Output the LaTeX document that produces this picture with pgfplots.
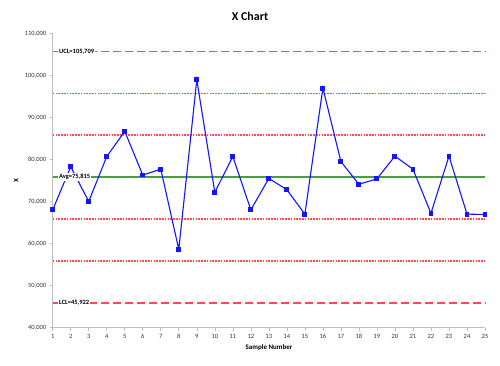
\documentclass[border=0pt]{standalone}
\usepackage{pgfplots}
\pgfplotsset{compat=1.18}
\usepackage{fontspec}
\setmainfont{Carlito}
\definecolor{ctrlred}{RGB}{255,75,75}
\definecolor{avggreen}{RGB}{70,160,60}
\definecolor{datablue}{RGB}{20,20,255}
\definecolor{axgray}{RGB}{190,190,190}
\begin{document}
\begin{tikzpicture}[x=1bp,y=1bp]
\path (0,0) rectangle (500,365);
% y values in thousands
\begin{axis}[
  at={(52.7bp,37.5bp)}, anchor=south west,
  scale only axis, width=432.3bp, height=294bp,
  xmin=1, xmax=25, ymin=40, ymax=110,
  xtick={1,...,25},
  xticklabels={1,2,3,4,5,6,7,8,9,10,11,12,13,14,15,16,17,18,19,20,21,22,23,24,25},
  ytick={40,50,60,70,80,90,100,110},
  yticklabels={{40,000},{50,000},{60,000},{70,000},{80,000},{90,000},{100,000},{110,000}},
  axis x line*=bottom, axis y line*=left,
  axis line style={axgray, line width=0.8bp, -},
  tick style={axgray, line width=0.6bp},
  tick align=outside, major tick length=3bp,
  ticklabel style={font=\fontsize{6.5}{7}\selectfont, text=black!80},
  clip=false,
]
% average
\addplot[draw=avggreen, line width=2bp, mark=none] coordinates {(1,75.815) (25,75.815)};
% control limits and sigma zones
\addplot[draw=ctrlred, line width=1.8bp, dash pattern=on 8bp off 4bp, mark=none] coordinates {(1,45.922) (25,45.922)};
\addplot[draw=ctrlred, line width=1.6bp, dash pattern=on 1.6bp off 1.2bp, mark=none] coordinates {(1,55.886) (25,55.886)};
\addplot[draw=ctrlred, line width=1.6bp, dash pattern=on 1.6bp off 1.2bp, mark=none] coordinates {(1,65.850) (25,65.850)};
\addplot[draw=ctrlred, line width=1.6bp, dash pattern=on 1.6bp off 1.2bp, mark=none] coordinates {(1,85.780) (25,85.780)};
\addplot[draw=ctrlred, line width=1.6bp, dash pattern=on 1.6bp off 1.2bp, mark=none] coordinates {(1,95.744) (13,95.744) (25,95.744)};
\addplot[draw=ctrlred, line width=1.8bp, dash pattern=on 8bp off 4bp, mark=none] coordinates {(1,105.709) (13,105.709) (25,105.709)};
% data
\addplot[draw=datablue, line width=1.1bp, mark=square*, mark size=1.9bp, mark options={solid, fill=datablue, draw=datablue}] coordinates {
(1,68.0) (2,78.3) (3,70.0) (4,80.7) (5,86.7) (6,76.3) (7,77.7) (8,58.6) (9,99.0) (10,72.2)
(11,80.7) (12,68.0) (13,75.5) (14,72.8) (15,67.0) (16,97.0) (17,79.5) (18,74.1) (19,75.4) (20,80.8)
(21,77.7) (22,67.2) (23,80.8) (24,67.0) (25,66.9)};
\node[anchor=west, fill=white, inner sep=0.8bp, font=\fontsize{6.5}{7}\selectfont\bfseries] at (axis cs:1.3,105.709) {UCL=105,709};
\node[anchor=west, fill=white, inner sep=0.8bp, font=\fontsize{6.5}{7}\selectfont\bfseries] at (axis cs:1.3,75.815) {Avg=75,815};
\node[anchor=west, fill=white, inner sep=0.8bp, font=\fontsize{6.5}{7}\selectfont\bfseries] at (axis cs:1.3,45.922) {LCL=45,922};
\end{axis}
\node[font=\fontsize{12}{14}\selectfont\bfseries] at (250,349) {X Chart};
\node[font=\fontsize{7}{8}\selectfont\bfseries] at (269,17) {Sample Number};
\node[font=\fontsize{7}{8}\selectfont\bfseries, rotate=90] at (16,184) {X};
\end{tikzpicture}
\end{document}
